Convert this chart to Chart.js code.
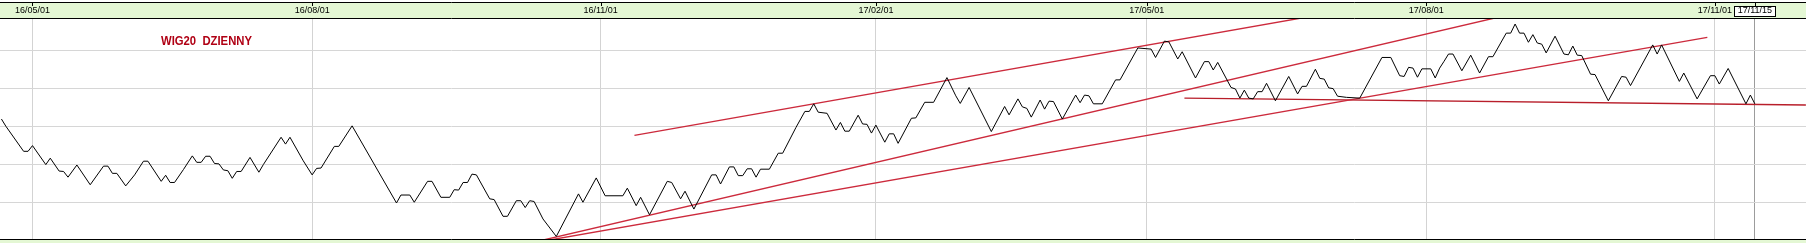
<!DOCTYPE html>
<html>
<head>
<meta charset="utf-8">
<title>WIG20 DZIENNY</title>
<script src="https://cdn.jsdelivr.net/npm/chart.js@4.4.0/dist/chart.umd.min.js"></script>
<style>
  html, body { margin: 0; padding: 0; background: #fff; }
  canvas { display: block; }
</style>
</head>
<body>
<canvas id="chart" width="1806" height="243"></canvas>
<script>
// x = trading session counted from 2016-05-02, y = index level
const tickDays = [0, 63, 128, 190, 251, 314, 379, 388];
const tickLabels = ['16/05/01', '16/08/01', '16/11/01', '17/02/01', '17/05/01', '17/08/01', '17/11/01', '17/11/15'];
const gridLevels = [1800, 1900, 2000, 2100, 2200];

const days = [
  -7, -6, -2, -1, 0, 3, 4, 6, 7, 8, 10, 13, 16, 17, 18, 19, 21, 23, 25, 26,
  29, 30, 31, 32, 34, 36, 37, 38, 39, 40, 41, 42, 43, 44, 45, 46, 47, 49, 51, 52,
  56, 57, 58, 61, 63, 64, 65, 68, 69, 72, 82, 83, 85, 86, 89, 90, 92, 94, 95, 96,
  97, 98, 99, 100, 103, 104, 106, 107, 109, 110, 111, 112, 113, 115, 118, 123, 124, 127, 129, 133,
  134, 136, 137, 139, 143, 144, 146, 147, 149, 153, 154, 155, 157, 158, 159, 160, 161, 162, 163, 164,
  166, 168, 169, 172, 174, 175, 176, 177, 179, 181, 182, 183, 184, 186, 187, 188, 189, 190, 192, 193,
  194, 195, 198, 199, 201, 203, 206, 208, 209, 211, 216, 219, 220, 222, 223, 224, 225, 227, 228, 229,
  230, 232, 235, 236, 237, 238, 239, 241, 244, 245, 249, 252, 253, 255, 256, 258, 259, 262, 264, 265,
  266, 267, 270, 271, 272, 273, 274, 275, 276, 277, 278, 280, 283, 285, 286, 287, 289, 290, 291, 292,
  293, 294, 296, 299, 304, 306, 308, 309, 310, 311, 312, 313, 315, 316, 317, 318, 319, 320, 322, 324,
  326, 328, 329, 332, 333, 334, 335, 336, 337, 338, 339, 340, 341, 343, 345, 346, 347, 348, 349, 351,
  352, 355, 358, 359, 360, 365, 366, 367, 371, 372, 375, 378, 379, 380, 382, 386, 387, 388
];
const closes = [
  2021, 2002, 1936, 1936, 1951, 1901, 1918, 1884, 1883, 1868, 1900, 1848, 1897, 1897, 1878, 1878, 1845, 1874, 1910, 1910,
  1857, 1873, 1854, 1854, 1888, 1924, 1907, 1907, 1923, 1923, 1904, 1903, 1887, 1885, 1865, 1883, 1883, 1920, 1881, 1901,
  1973, 1955, 1973, 1911, 1874, 1891, 1892, 1949, 1949, 2003, 1800, 1821, 1821, 1802, 1857, 1857, 1815, 1815, 1835, 1834,
  1854, 1854, 1876, 1874, 1811, 1809, 1765, 1765, 1806, 1806, 1788, 1806, 1804, 1758, 1712, 1824, 1802, 1866, 1819, 1819,
  1839, 1793, 1815, 1769, 1857, 1854, 1811, 1831, 1784, 1874, 1874, 1850, 1895, 1895, 1872, 1872, 1890, 1890, 1868, 1889,
  1889, 1931, 1931, 1999, 2041, 2041, 2061, 2039, 2036, 1992, 2012, 1989, 1989, 2031, 2008, 2007, 1984, 2005, 1960, 1982,
  1982, 1957, 2023, 2024, 2065, 2065, 2130, 2082, 2062, 2104, 1988, 2054, 2032, 2074, 2053, 2049, 2026, 2071, 2047, 2068,
  2067, 2021, 2084, 2064, 2084, 2082, 2061, 2061, 2124, 2124, 2208, 2205, 2183, 2226, 2224, 2179, 2198, 2129, 2172, 2172,
  2150, 2170, 2104, 2100, 2076, 2097, 2076, 2074, 2093, 2093, 2115, 2069, 2133, 2087, 2107, 2107, 2152, 2128, 2126, 2103,
  2101, 2081, 2078, 2076, 2183, 2183, 2135, 2133, 2157, 2155, 2131, 2153, 2153, 2129, 2155, 2173, 2192, 2192, 2148, 2189,
  2142, 2185, 2185, 2247, 2247, 2271, 2247, 2247, 2223, 2243, 2221, 2218, 2195, 2239, 2192, 2190, 2213, 2189, 2188, 2139,
  2138, 2069, 2133, 2131, 2109, 2216, 2192, 2216, 2120, 2142, 2074, 2135, 2135, 2113, 2154, 2061, 2084, 2061
];

// trend lines drawn on the chart: [day, level] end points
const channelTop = [[135.6, 1978], [285.5, 2286]];
const channelBottom = [[114.1, 1700], [330.6, 2290]];
const longSupport = [[115.2, 1700], [377.3, 2236]];
const flatSupport = [[259.5, 2076], [399.5, 2058]];

const title = 'WIG20  DZIENNY';
const barGreen = '#e4f7d4';
const trendRed = '#cc2a3c';
const tickFont = '9px "Liberation Sans", Arial, sans-serif';

function toPoints(xs, ys) {
  return xs.map((x, i) => ({ x, y: ys[i] }));
}

function trendDataset(ends, color) {
  return {
    data: ends.map(([x, y]) => ({ x, y })),
    borderColor: color,
    borderWidth: 1.4,
    pointRadius: 0,
    showLine: true,
    clip: 0
  };
}

const framePlugin = {
  id: 'frame',
  beforeDraw(chart) {
    const { ctx, width, height, chartArea } = chart;
    const xs = chart.scales.x;
    ctx.save();
    ctx.fillStyle = barGreen;
    ctx.fillRect(0, 2, width, chartArea.top - 2);
    ctx.fillRect(0, chartArea.bottom, width, height - chartArea.bottom);

    const last = tickDays.length - 1;
    const cx = Math.round(xs.getPixelForValue(tickDays[last]));
    ctx.font = tickFont;
    const w = Math.ceil(ctx.measureText(tickLabels[last]).width) + 7;
    const left = Math.round(cx - w / 2);
    ctx.fillStyle = '#fff';
    ctx.fillRect(left, 7, w, 10);
    ctx.strokeStyle = '#000';
    ctx.lineWidth = 1;
    ctx.strokeRect(left + 0.5, 6.5, w - 1, 10);
    ctx.restore();
  },
  afterDraw(chart) {
    const { ctx, width, chartArea } = chart;
    const xs = chart.scales.x;
    ctx.save();
    ctx.strokeStyle = '#000';
    ctx.lineWidth = 1;
    ctx.beginPath();
    ctx.moveTo(0, 2.5); ctx.lineTo(width, 2.5);
    ctx.moveTo(0, chartArea.top - 0.5); ctx.lineTo(width, chartArea.top - 0.5);
    ctx.moveTo(0, chartArea.bottom + 0.5); ctx.lineTo(width, chartArea.bottom + 0.5);
    tickDays.forEach((d) => {
      const px = Math.round(xs.getPixelForValue(d)) + 0.5;
      ctx.moveTo(px, 2); ctx.lineTo(px, 6);
    });
    ctx.stroke();

    ctx.font = 'bold 13.5px "Liberation Sans", Arial, sans-serif';
    const sx = 91 / ctx.measureText(title).width;
    ctx.translate(161, 44.5);
    ctx.scale(sx, 1);
    ctx.fillStyle = '#b00014';
    ctx.textBaseline = 'alphabetic';
    ctx.fillText(title, 0, 0);
    ctx.restore();
  }
};

new Chart(document.getElementById('chart'), {
  type: 'scatter',
  data: {
    datasets: [
      {
        data: toPoints(days, closes),
        borderColor: '#000',
        borderWidth: 1,
        pointRadius: 0,
        showLine: true,
        clip: 0
      },
      trendDataset(channelTop, trendRed),
      trendDataset(channelBottom, trendRed),
      trendDataset(longSupport, trendRed),
      trendDataset(flatSupport, '#b81e2a')
    ]
  },
  options: {
    responsive: false,
    animation: false,
    events: [],
    layout: { padding: { top: 2, bottom: 4, left: 0, right: 0 } },
    plugins: { legend: { display: false }, tooltip: { enabled: false } },
    scales: {
      x: {
        type: 'linear',
        position: 'top',
        min: -7.3215,
        max: 399.53,
        afterBuildTicks: (scale) => { scale.ticks = tickDays.map((v) => ({ value: v })); },
        afterFit: (scale) => { scale.height = 17; },
        border: { display: false },
        grid: {
          drawTicks: false,
          lineWidth: 1,
          color: (ctx) => (ctx.index === tickDays.length - 1 ? '#9c9c9c' : '#d3d3d3')
        },
        ticks: {
          autoSkip: false,
          maxRotation: 0,
          padding: 3,
          color: '#000',
          font: { family: '"Liberation Sans", Arial, sans-serif', size: 9 },
          callback: (value, index) => tickLabels[index]
        }
      },
      y: {
        type: 'linear',
        min: 1705.26,
        max: 2284.2,
        afterBuildTicks: (scale) => { scale.ticks = gridLevels.map((v) => ({ value: v })); },
        afterFit: (scale) => { scale.width = 0; },
        border: { display: false },
        grid: { drawTicks: false, color: '#d6d6d6', lineWidth: 1 },
        ticks: { display: false }
      }
    }
  },
  plugins: [framePlugin]
});
</script>
</body>
</html>
